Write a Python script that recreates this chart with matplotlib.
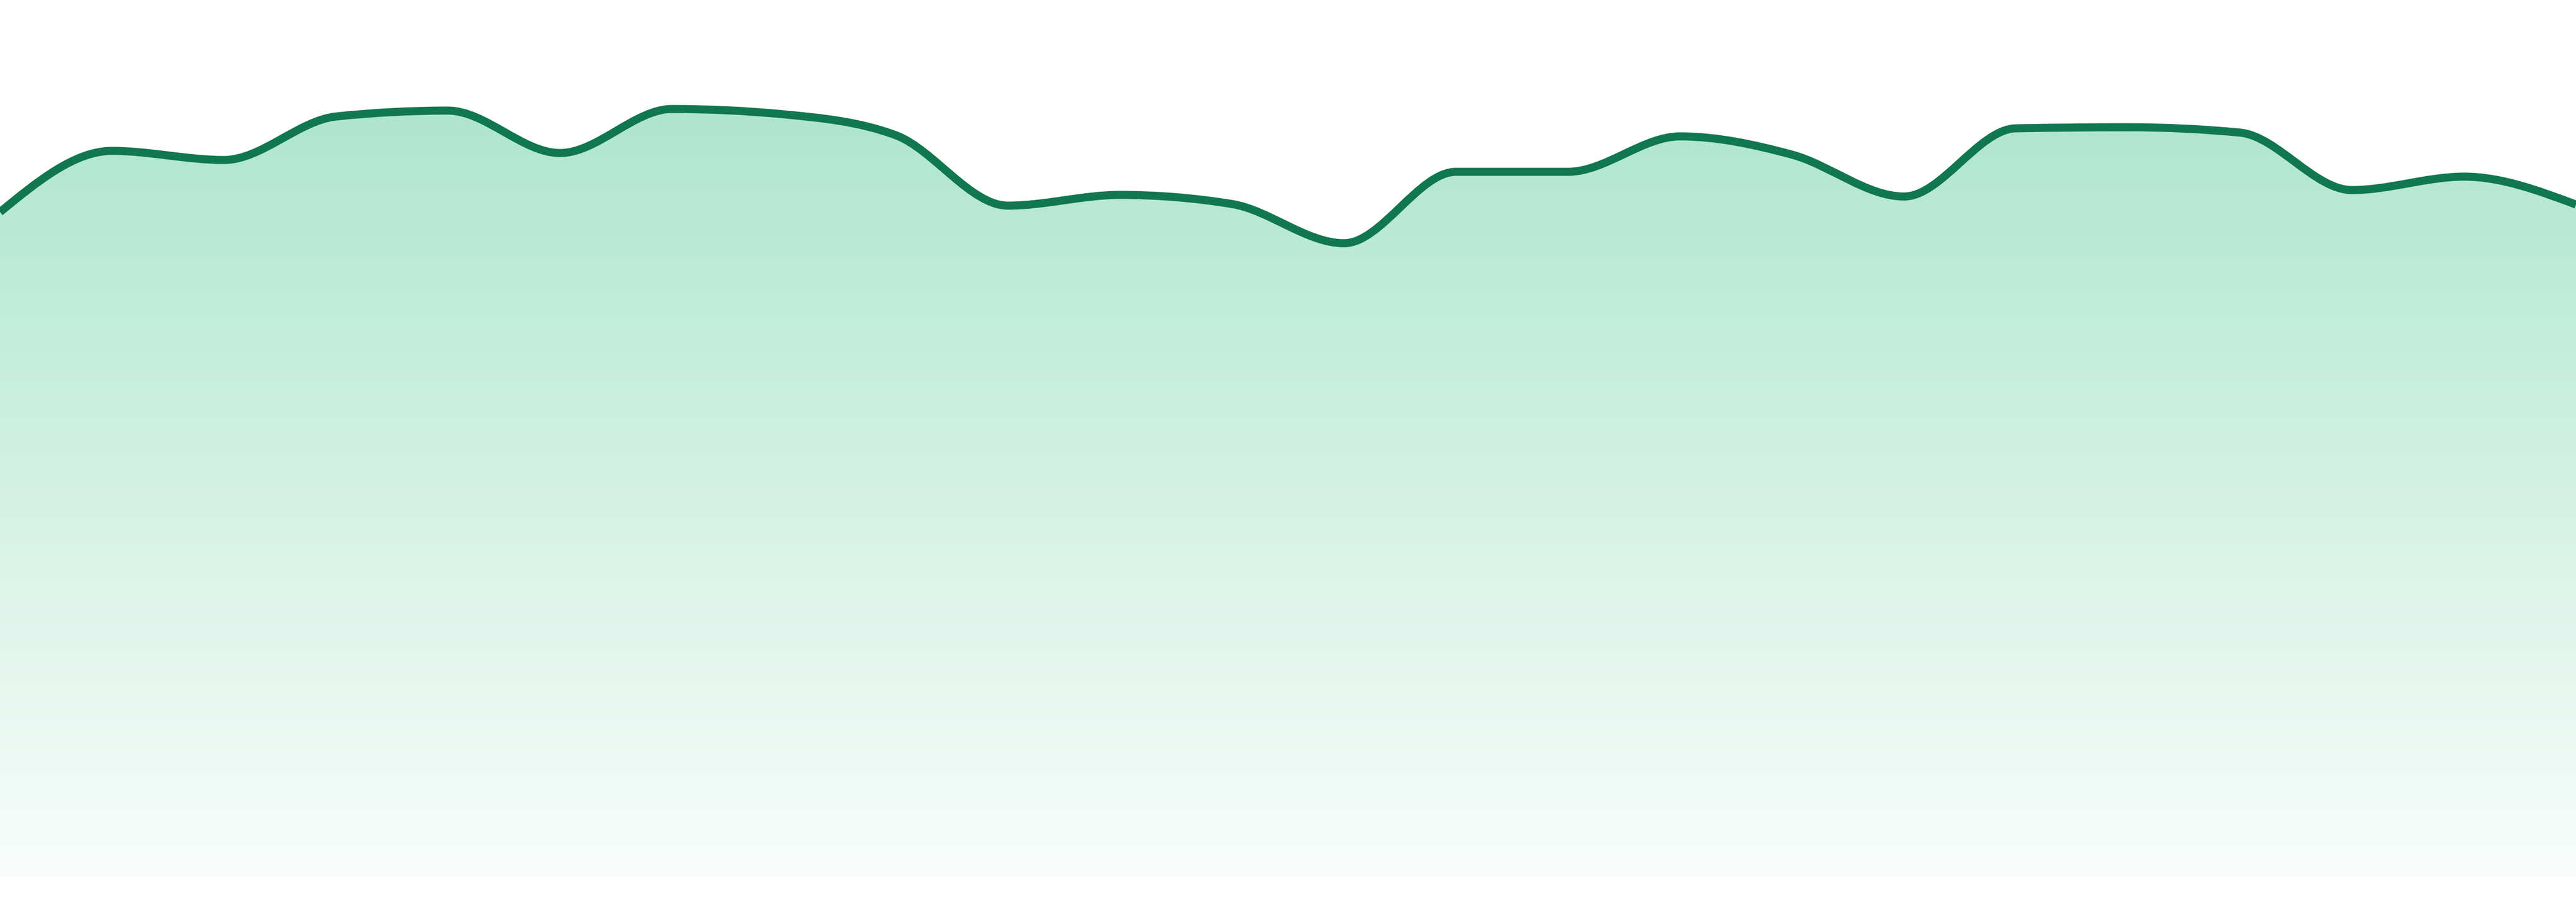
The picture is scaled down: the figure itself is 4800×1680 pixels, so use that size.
import numpy as np
import matplotlib
matplotlib.use("Agg")
import matplotlib.pyplot as plt
from matplotlib.path import Path
from matplotlib.patches import PathPatch

# 24 samples
steps = list(range(24))
values = [123.8, 135.2, 133.5, 141.6, 142.7, 134.8, 143.0, 142.0,
          138.1, 125.0, 127.0, 125.3, 118.0, 131.3, 131.3, 137.9,
          134.5, 126.7, 139.4, 139.6, 138.6, 127.9, 130.4, 125.2]

line_color = "#117750"
fill_color = (0.114, 0.722, 0.475)


def monotone_path(x, y, base=None):
    # same shape as d3.curveMonotoneX
    x = np.asarray(x, float)
    y = np.asarray(y, float)
    n = len(x)
    h = np.diff(x)
    s = np.diff(y) / h
    t = np.zeros(n)
    for i in range(1, n - 1):
        p = (s[i - 1] * h[i] + s[i] * h[i - 1]) / (h[i - 1] + h[i])
        t[i] = (np.sign(s[i - 1]) + np.sign(s[i])) * min(abs(s[i - 1]), abs(s[i]), 0.5 * abs(p))
    t[0] = (3 * s[0] - t[1]) / 2
    t[-1] = (3 * s[-1] - t[-2]) / 2
    verts = [(x[0], y[0])]
    codes = [Path.MOVETO]
    for i in range(n - 1):
        dx = h[i] / 3
        verts += [(x[i] + dx, y[i] + dx * t[i]),
                  (x[i + 1] - dx, y[i + 1] - dx * t[i + 1]),
                  (x[i + 1], y[i + 1])]
        codes += [Path.CURVE4] * 3
    if base is not None:
        verts += [(x[-1], base), (x[0], base), (x[0], y[0])]
        codes += [Path.LINETO, Path.LINETO, Path.CLOSEPOLY]
    return Path(verts, codes)


fig = plt.figure(figsize=(48, 16.8), dpi=100)
ax = fig.add_axes([0, 0, 1, 1])
ax.set_xlim(steps[0], steps[-1])
ax.set_ylim(-4.7, 163.3)
ax.axis("off")

# gradient under the line
top = max(values)
grad = np.linspace(0.03, 0.36, 256).reshape(-1, 1)
rgba = np.zeros((256, 1, 4))
rgba[..., 0], rgba[..., 1], rgba[..., 2] = fill_color
rgba[..., 3] = grad
img = ax.imshow(rgba, extent=[steps[0], steps[-1], 0, top], origin="lower",
                aspect="auto", interpolation="bilinear", zorder=1)
area = PathPatch(monotone_path(steps, values, base=0), facecolor="none",
                 edgecolor="none", transform=ax.transData)
ax.add_patch(area)
img.set_clip_path(area)

ax.add_patch(PathPatch(monotone_path(steps, values), facecolor="none",
                       edgecolor=line_color, linewidth=10.8, capstyle="butt",
                       zorder=3))

fig.savefig("out.png", dpi=100, facecolor="white")
